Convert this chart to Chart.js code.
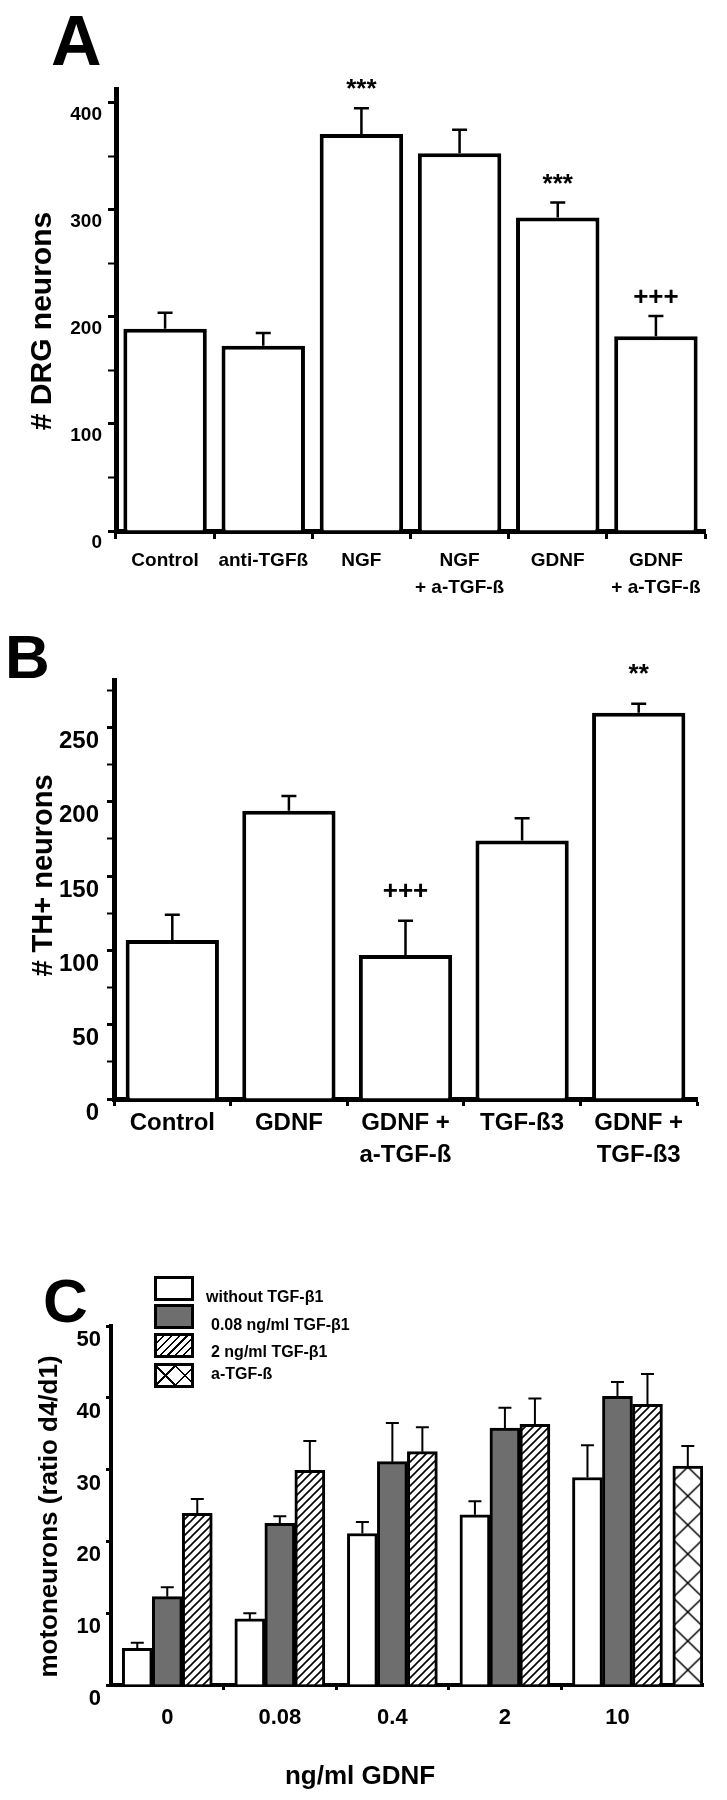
<!DOCTYPE html>
<html>
<head>
<meta charset="utf-8">
<script src="https://cdn.jsdelivr.net/npm/chart.js@4.4.1/dist/chart.umd.min.js"></script>
<style>
  html, body { margin: 0; padding: 0; background: #fff; }
  body { width: 727px; height: 1800px; position: relative; overflow: hidden;
         font-family: 'Liberation Sans', Arial, Helvetica, sans-serif; color: #000; }
  .panel { position: absolute; left: 0; }
  .letter { position: absolute; font-weight: bold; line-height: 1; }
  .lg-box { position: absolute; left: 154px; width: 40px; height: 25px; box-sizing: border-box; border: 3px solid #000; }
  .lg-text { position: absolute; font-weight: bold; font-size: 16px; line-height: 1; white-space: nowrap; }
</style>
</head>
<body>
<div class="letter" style="left:51px;top:6px;font-size:70px;">A</div>
<div class="letter" style="left:5px;top:626px;font-size:62px;">B</div>
<div class="letter" style="left:43px;top:1270px;font-size:62px;">C</div>

<canvas id="cA" class="panel" style="top:0px" width="727" height="600"></canvas>
<canvas id="cB" class="panel" style="top:600px" width="727" height="570"></canvas>
<canvas id="cC" class="panel" style="top:1240px" width="727" height="560"></canvas>

<div id="legendC"></div>

<script>
// ---------------- Panel A data ----------------
const aCategories = ['Control', 'anti-TGFß', 'NGF', ['NGF', '+ a-TGF-ß'], 'GDNF', ['GDNF', '+ a-TGF-ß']];
const aMeans  = [189, 173, 371, 353, 293, 182];
const aErrors = [15, 12, 24, 22, 14, 19];
const aMarks  = ['', '', '***', '', '***', '+++'];
const aTickLabels = [0, 100, 200, 300, 400];
const aTitle = '# DRG neurons';

// ---------------- Panel B data ----------------
const bCategories = ['Control', 'GDNF', ['GDNF +', 'a-TGF-ß'], 'TGF-ß3', ['GDNF +', 'TGF-ß3']];
const bMeans  = [107, 194, 97, 174, 260];
const bErrors = [17, 10, 23, 15, 6];
const bMarks  = ['', '', '+++', '', '**'];
const bTickLabels = [0, 50, 100, 150, 200, 250];
const bTitle = '# TH+ neurons';

// ---------------- Panel C data ----------------
const cCategories = ['0', '0.08', '0.4', '2', '10'];
const cSeriesNames = ['without TGF-β1', '0.08 ng/ml TGF-β1', '2 ng/ml TGF-β1', 'a-TGF-ß'];
const cWithout    = [5.1, 9.2, 21.1, 23.7, 28.9];
const cWithoutErr = [0.8, 0.8, 1.6, 1.9, 4.5];
const cLow        = [12.3, 22.5, 31.1, 35.8, 40.2];
const cLowErr     = [1.3, 1.0, 5.4, 2.8, 2.0];
const cHigh       = [23.9, 29.9, 32.5, 36.3, 39.1];
const cHighErr    = [2.0, 4.1, 3.4, 3.6, 4.2];
const cAnti       = [30.5];
const cAntiErr    = [2.8];
const cAntiCategory = '10';
const cTickLabels = [0, 10, 20, 30, 40, 50];
const cYTitle = 'motoneurons (ratio d4/d1)';
const cXTitle = 'ng/ml GDNF';

// ---------------- styling / layout ----------------
const FONT = "'Liberation Sans', Arial, Helvetica, sans-serif";
Chart.defaults.font.family = FONT;
Chart.defaults.font.weight = 'bold';
Chart.defaults.color = '#000';
Chart.defaults.animation = false;

const C_XMAX = 4.76;          // right end of the C axis (extends past the last group)
const ANTI_SHIFT = 0.625;     // a-TGF-ß bar sits just right of the "10" group
const CROSS_W = 30, CROSS_H = 29;

function makeHatch() {
  const s = 8, c = document.createElement('canvas'); c.width = c.height = s;
  const g = c.getContext('2d');
  g.fillStyle = '#fff'; g.fillRect(0, 0, s, s);
  g.strokeStyle = '#000'; g.lineWidth = 1.6; g.beginPath();
  g.moveTo(0, s); g.lineTo(s, 0);
  g.moveTo(-s / 2, s / 2); g.lineTo(s / 2, -s / 2);
  g.moveTo(s / 2, s * 1.5); g.lineTo(s * 1.5, s / 2);
  g.stroke();
  return document.createElement('canvas').getContext('2d').createPattern(c, 'repeat');
}
function makeCross() {
  const c = document.createElement('canvas'); c.width = CROSS_W; c.height = CROSS_H;
  const g = c.getContext('2d');
  g.fillStyle = '#fff'; g.fillRect(0, 0, CROSS_W, CROSS_H);
  g.strokeStyle = '#000'; g.lineWidth = 1.5; g.beginPath();
  g.moveTo(0, 0); g.lineTo(CROSS_W, CROSS_H);
  g.moveTo(CROSS_W, 0); g.lineTo(0, CROSS_H);
  g.stroke();
  return document.createElement('canvas').getContext('2d').createPattern(c, 'repeat');
}
const hatchPat = makeHatch();
const crossPat = makeCross();

const errorBarsPlugin = {
  id: 'errorBars',
  afterDatasetsDraw(chart) {
    const ctx = chart.ctx, ys = chart.scales.y;
    chart.data.datasets.forEach((ds, di) => {
      if (!ds.errors) return;
      const meta = chart.getDatasetMeta(di);
      const st = ds.errorStyle;
      meta.data.forEach((bar, i) => {
        const p = meta.controller.getParsed(i);
        const err = ds.errors[i];
        if (!p || err == null) return;
        const top = ys.getPixelForValue(p.y + err);
        ctx.save();
        ctx.strokeStyle = '#000'; ctx.lineWidth = st.width;
        ctx.beginPath();
        ctx.moveTo(bar.x, bar.y); ctx.lineTo(bar.x, top);
        ctx.moveTo(bar.x - st.cap / 2, top); ctx.lineTo(bar.x + st.cap / 2, top);
        ctx.stroke();
        if (ds.marks && ds.marks[i]) {
          ctx.fillStyle = '#000';
          ctx.font = st.markFont;
          ctx.textAlign = 'center'; ctx.textBaseline = 'middle';
          ctx.fillText(ds.marks[i], bar.x, top - st.markGap);
        }
        ctx.restore();
      });
    });
  }
};

// rotated y-axis title, centred on the plot area with a small vertical shift
const yTitlePlugin = {
  id: 'yTitle',
  afterDraw(chart, args, o) {
    if (!o || !o.text) return;
    const { ctx, chartArea } = chart;
    ctx.save();
    ctx.translate(o.x, (chartArea.top + chartArea.bottom) / 2 + o.shift);
    ctx.rotate(-Math.PI / 2);
    ctx.font = 'bold ' + o.size + 'px ' + FONT;
    ctx.fillStyle = '#000';
    ctx.textAlign = 'center'; ctx.textBaseline = 'middle';
    ctx.fillText(o.text, 0, 0);
    ctx.restore();
  }
};

const crossAlignPlugin = {
  id: 'crossAlign',
  beforeDatasetsDraw(chart) {
    const bar = chart.getDatasetMeta(3).data[0];
    if (bar && crossPat.setTransform) {
      crossPat.setTransform(new DOMMatrix().translate(bar.x - CROSS_W / 2, bar.base));
    }
  }
};

function yAxis(opts) {
  return {
    min: 0, max: opts.max,
    afterFit: s => { s.width = opts.width; },
    grid: { drawOnChartArea: false, tickLength: opts.tl, tickColor: '#000',
            tickWidth: c => (c.tick && opts.labels.includes(c.tick.value)) ? 3 : 2 },
    border: { display: true, color: '#000', width: opts.border },
    ticks: { stepSize: opts.step, includeBounds: false, autoSkip: false,
             font: { size: opts.font }, padding: opts.pad, labelOffset: opts.labelOffset,
             callback: v => opts.labels.includes(v) ? String(v) : '' },
    title: { display: false }
  };
}

// ---------------- Chart A ----------------
new Chart(document.getElementById('cA'), {
  type: 'bar',
  data: {
    labels: aCategories,
    datasets: [{
      data: aMeans, errors: aErrors, marks: aMarks,
      errorStyle: { width: 2.5, cap: 15, markFont: 'bold 26px ' + FONT, markGap: 18 },
      backgroundColor: '#fff', borderColor: '#000', borderWidth: 4,
      barPercentage: 0.85, categoryPercentage: 1
    }]
  },
  options: {
    responsive: false,
    layout: { padding: { left: 0, right: 22, top: 89, bottom: 0 } },
    plugins: { legend: { display: false }, tooltip: { enabled: false },
               yTitle: { text: aTitle, size: 30, x: 43, shift: 11 } },
    scales: {
      x: {
        afterFit: s => { s.height = 69; },
        grid: { drawOnChartArea: false, tickLength: 8, tickWidth: 3, tickColor: '#000' },
        border: { display: true, color: '#000', width: 5 },
        ticks: { font: { size: 19, lineHeight: 1.42 }, padding: 8, maxRotation: 0, autoSkip: false }
      },
      y: yAxis({ max: 413, width: 116, tl: 8, labels: aTickLabels, border: 5, step: 50,
                 font: 19, pad: 6, labelOffset: 12 })
    }
  },
  plugins: [errorBarsPlugin, yTitlePlugin]
});

// ---------------- Chart B ----------------
new Chart(document.getElementById('cB'), {
  type: 'bar',
  data: {
    labels: bCategories,
    datasets: [{
      data: bMeans, errors: bErrors, marks: bMarks,
      errorStyle: { width: 2.5, cap: 15, markFont: 'bold 26px ' + FONT, markGap: 29 },
      backgroundColor: '#fff', borderColor: '#000', borderWidth: 4,
      barPercentage: 0.8, categoryPercentage: 1
    }]
  },
  options: {
    responsive: false,
    layout: { padding: { left: 0, right: 30, top: 80, bottom: 0 } },
    plugins: { legend: { display: false }, tooltip: { enabled: false },
               yTitle: { text: bTitle, size: 29, x: 44, shift: -14 } },
    scales: {
      x: {
        afterFit: s => { s.height = 71; },
        grid: { drawOnChartArea: false, tickLength: 7, tickWidth: 3, tickColor: '#000' },
        border: { display: true, color: '#000', width: 5 },
        ticks: { font: { size: 24, lineHeight: 1.33 }, padding: 1, maxRotation: 0, autoSkip: false }
      },
      y: yAxis({ max: 282, width: 114, tl: 7, labels: bTickLabels, border: 5, step: 25,
                 font: 24, pad: 8, labelOffset: 14 })
    }
  },
  plugins: [errorBarsPlugin, yTitlePlugin]
});

// ---------------- Chart C ----------------
const cPoints = vals => vals.map((v, i) => ({ x: i, y: v }));
const cErrStyle = { width: 2, cap: 13 };
const cBarBase = { borderColor: '#000', borderWidth: 3, barThickness: 30, errorStyle: cErrStyle };
new Chart(document.getElementById('cC'), {
  type: 'bar',
  data: {
    datasets: [
      Object.assign({ label: cSeriesNames[0], data: cPoints(cWithout), errors: cWithoutErr, backgroundColor: '#fff' }, cBarBase),
      Object.assign({ label: cSeriesNames[1], data: cPoints(cLow), errors: cLowErr, backgroundColor: '#6e6e6e' }, cBarBase),
      Object.assign({ label: cSeriesNames[2], data: cPoints(cHigh), errors: cHighErr, backgroundColor: hatchPat }, cBarBase),
      { label: cSeriesNames[3],
        data: cAnti.map(v => ({ x: cCategories.indexOf(cAntiCategory) + ANTI_SHIFT, y: v })),
        errors: cAntiErr, errorStyle: cErrStyle, backgroundColor: crossPat,
        borderColor: '#000', borderWidth: 3, barThickness: 30, grouped: false }
    ]
  },
  options: {
    responsive: false,
    layout: { padding: { left: 17, right: 24, top: 86, bottom: 0 } },
    plugins: {
      legend: { display: false }, tooltip: { enabled: false },
      yTitle: { text: cYTitle, size: 26, x: 50, shift: 11 },
      title: { display: true, position: 'bottom', text: cXTitle, color: '#000',
               font: { size: 26, weight: 'bold' }, padding: { top: 10, bottom: 8 } }
    },
    scales: {
      x: {
        type: 'linear', min: -0.5, max: C_XMAX, offset: false,
        afterFit: s => { s.height = 65.8; },
        afterBuildTicks: s => {
          const t = [];
          cCategories.forEach((c, i) => { t.push({ value: i }); if (i < cCategories.length - 1) t.push({ value: i + 0.5 }); });
          s.ticks = t;
        },
        grid: { offset: false, drawOnChartArea: false, tickLength: 5, tickColor: '#000',
                tickWidth: c => (c.tick && Number.isInteger(c.tick.value)) ? 0 : 3 },
        border: { display: true, color: '#000', width: 4 },
        ticks: { font: { size: 22 }, padding: 15, maxRotation: 0, autoSkip: false,
                 callback: v => Number.isInteger(v) ? cCategories[v] : '' }
      },
      y: yAxis({ max: 50, width: 94, tl: 5, labels: cTickLabels, border: 4, step: 10,
                 font: 22, pad: 5, labelOffset: 14 })
    }
  },
  plugins: [crossAlignPlugin, errorBarsPlugin, yTitlePlugin]
});

// ---------------- Legend for C (HTML text) ----------------
const legendSwatches = [
  'background:#fff',
  'background:#6e6e6e',
  'background:repeating-linear-gradient(135deg,#fff 0 4px,#000 4px 5.5px)',
  'background:repeating-linear-gradient(45deg,transparent 0 12px,#000 12px 13.5px),repeating-linear-gradient(135deg,transparent 0 12px,#000 12px 13.5px),#fff'
];
const legendBoxTops = [1276, 1304, 1333, 1363];
const legendTextTops = [1289, 1317, 1344, 1366];
const legendTextLefts = [206, 211, 211, 211];
const lg = document.getElementById('legendC');
cSeriesNames.forEach((name, i) => {
  const b = document.createElement('div');
  b.className = 'lg-box';
  b.style.cssText = 'top:' + legendBoxTops[i] + 'px;' + legendSwatches[i];
  lg.appendChild(b);
  const t = document.createElement('div');
  t.className = 'lg-text';
  t.style.top = legendTextTops[i] + 'px';
  t.style.left = legendTextLefts[i] + 'px';
  t.textContent = name;
  lg.appendChild(t);
});
</script>
</body>
</html>
